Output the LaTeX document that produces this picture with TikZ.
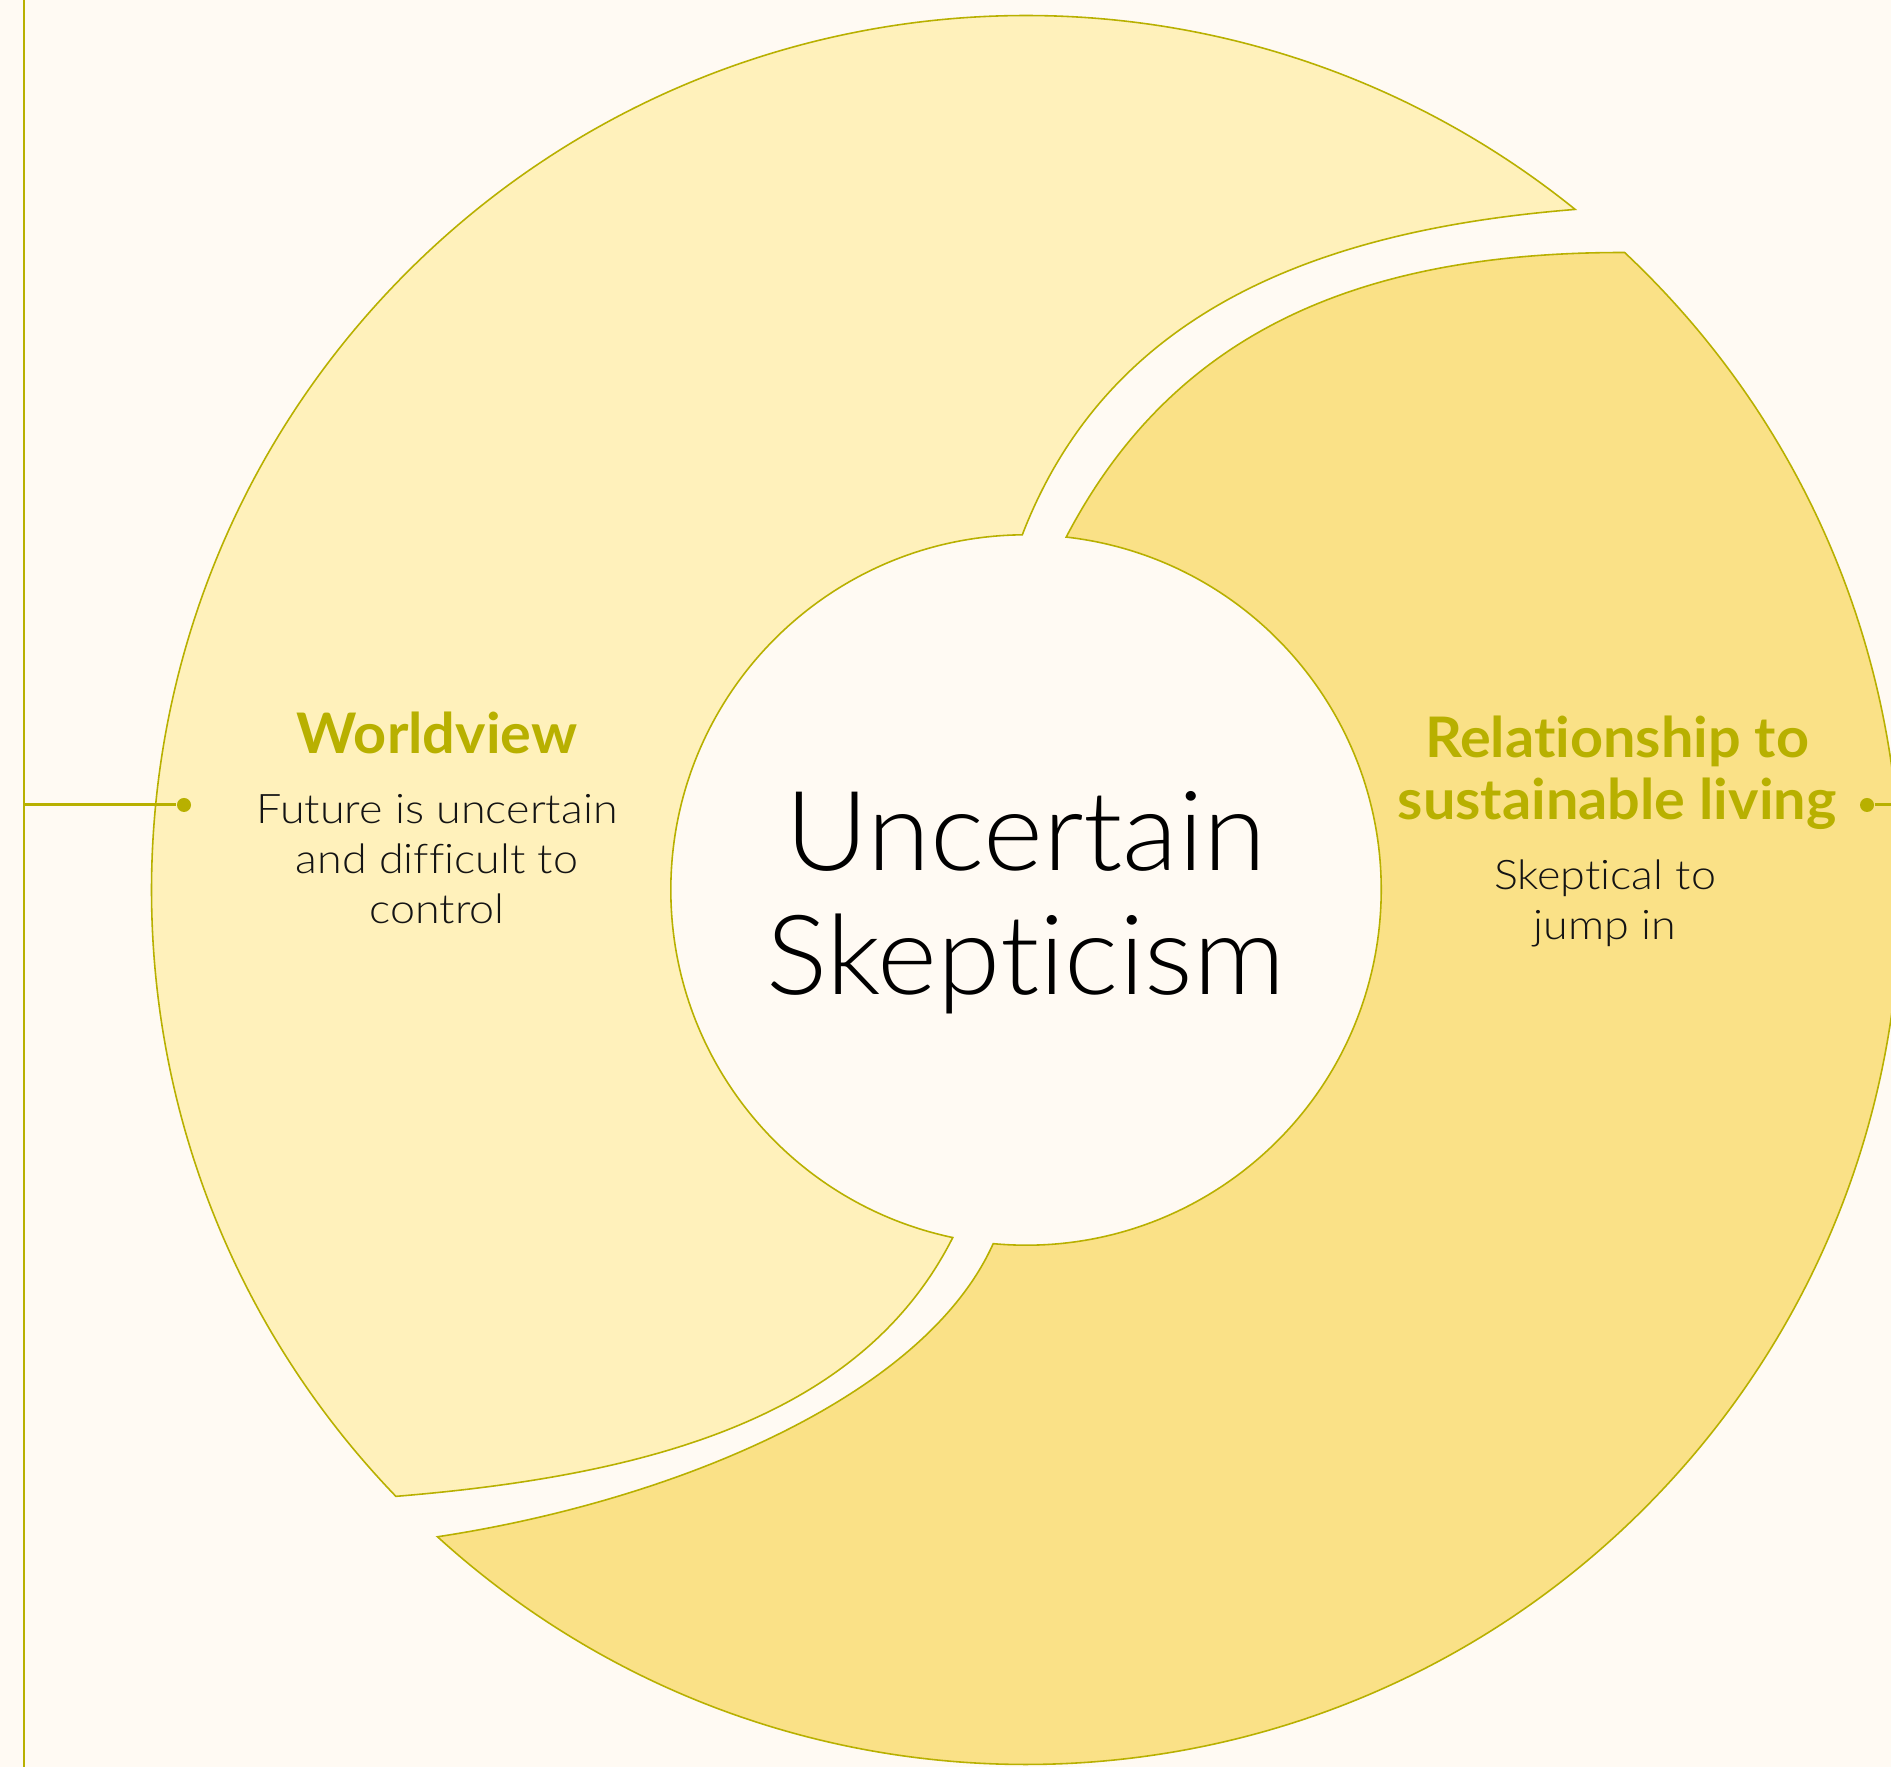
\documentclass[tikz,border=0pt]{standalone}
\usepackage{fontspec}
\setmainfont{Lato}[Ligatures=NoCommon]
\newfontfamily\headfont{Lato}[FakeStretch=1.03, Ligatures=NoCommon]
\newfontfamily\bodyfont{Lato Light}[FakeStretch=1.10, Ligatures=NoCommon]
\newfontfamily\titlefont{Lato Light}[FakeStretch=1.035, Ligatures=NoCommon]
\definecolor{bg}{HTML}{FFFAF3}
\definecolor{lightY}{HTML}{FFF1BB}
\definecolor{darkY}{HTML}{FAE187}
\definecolor{olive}{HTML}{B8B000}
\tikzset{
  shapeedge/.style={draw=olive, line width=0.45pt, line join=miter},
  conn/.style={draw=olive, line width=0.85pt},
  dotnode/.style={circle, fill=olive, inner sep=0pt, minimum size=0.14cm},
  headtext/.style={font=\headfont\bfseries\fontsize{15.9}{17.6}\selectfont, text=olive, align=center, inner sep=0pt},
  bodytext/.style={font=\bodyfont\fontsize{11.6}{14.2}\selectfont, text=black!92, align=center, inner sep=0pt},
  titletext/.style={font=\titlefont\fontsize{31.5}{35.3}\selectfont, text=black, align=center, inner sep=0pt}
}
\begin{document}
\begin{tikzpicture}[x=0.01cm,y=0.01cm]
\useasboundingbox (0,0) rectangle (1891,1767);
\fill[bg] (0,0) rectangle (1891,1767);
\clip (0,0) rectangle (1891,1767);
\coordinate (C) at (1026,877);
\path (C) ++(223.9:8.74cm) coordinate (WoS);
\path (C) ++(90.6:3.55cm) coordinate (WiT);
\path (C) ++(227.7:8.74cm) coordinate (RoS);
\path (C) ++(83.5:3.55cm) coordinate (RiT);
% Worldview segment
\filldraw[shapeedge, fill=lightY] (WoS) arc[start angle=223.9, end angle=51.1, radius=8.74cm]
  .. controls (1317,1537) and (1108,1455) .. (WiT)
  arc[start angle=90.6, end angle=258.1, radius=3.55cm]
  .. controls (863,352) and (656,292) .. cycle;
% Relationship segment
\filldraw[shapeedge, fill=darkY] (RoS) arc[start angle=227.7, end angle=406.8, radius=8.74cm]
  .. controls (1345,1515) and (1168,1425) .. (RiT)
  arc[start angle=83.5, end angle=-95.3, radius=3.55cm]
  .. controls (923,367) and (667,265) .. cycle;
% connectors
\coordinate (vTop) at (24,1767);
\coordinate (vBot) at (24,0);
\coordinate (jL) at (24,962);
\coordinate (edgeR) at (1891,962);
\node[dotnode] (dotL) at (184,962) {};
\node[dotnode] (dotR) at (1867,962) {};
\draw[conn] (vTop) -- (vBot);
\draw[conn] (jL) -- (dotL);
\draw[conn] (dotR) -- (edgeR);
% texts
\node[headtext, anchor=base] (wv) at (437,1013) {Worldview};
\node[bodytext, anchor=north] (wvtext) at (437,973) {Future is uncertain\\and difficult to\\control};
\node[headtext, anchor=north] (rel) at (1617,1052) {Relationship to\\sustainable living};
\node[bodytext, anchor=north] (reltext) at (1605,908) {Skeptical to\\jump in};
\node[titletext, anchor=north] (ttl) at (1026,976) {Uncertain\\Skepticism};
\end{tikzpicture}
\end{document}
